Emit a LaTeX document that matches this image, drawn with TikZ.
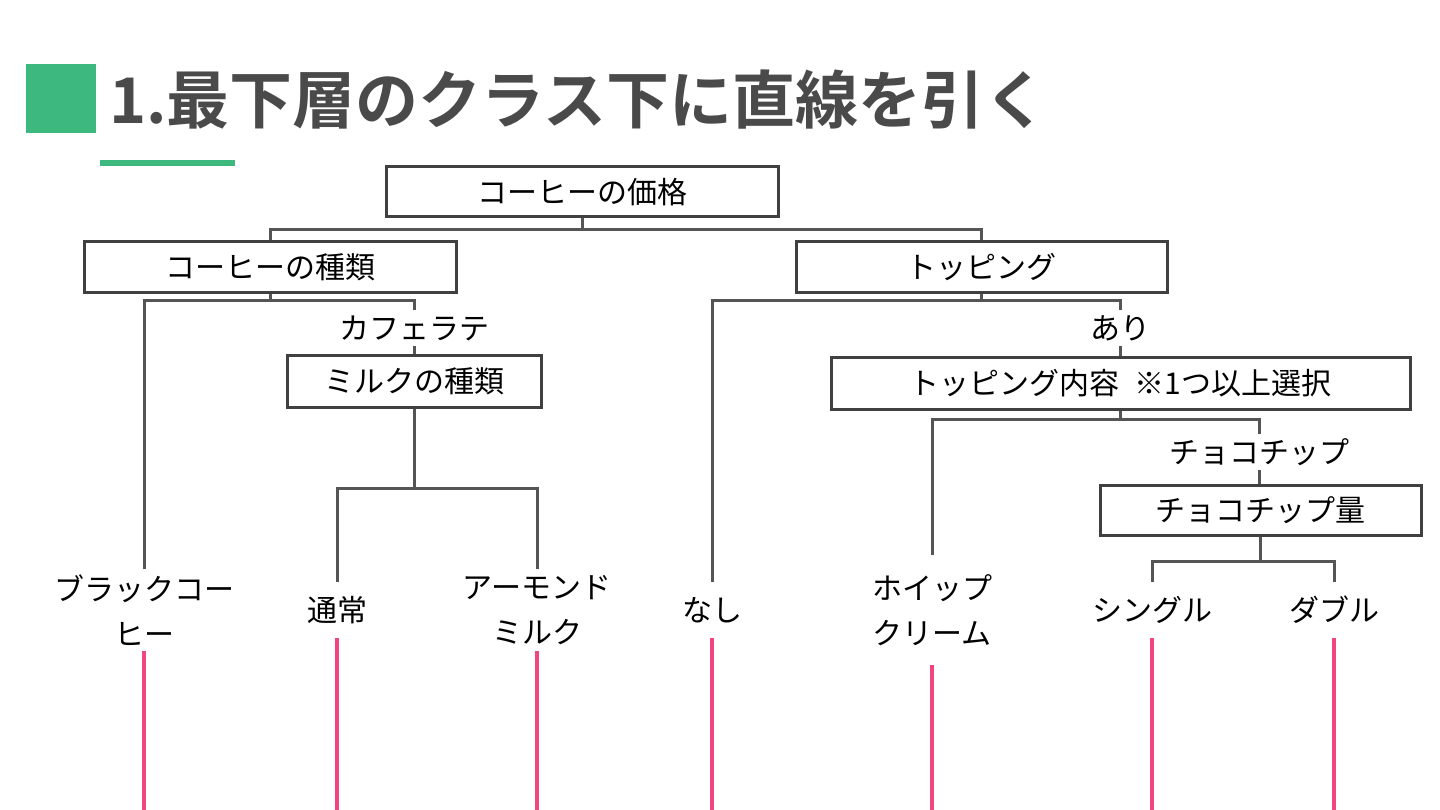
\documentclass[tikz,border=0pt]{standalone}
\usepackage{fontspec}
\newfontfamily\jp{Noto Sans CJK JP}
\newfontfamily\jpbold{Noto Sans CJK JP Bold}
\definecolor{accent}{HTML}{3DB87E}
\definecolor{titlegray}{HTML}{4A4A4A}
\definecolor{linegray}{HTML}{555555}
\definecolor{boxgray}{HTML}{404040}
\definecolor{hotpink}{HTML}{F2447F}
\tikzset{
  box/.style={draw=boxgray, line width=3pt, fill=white, inner sep=0pt, font=\jp\fontsize{30}{30}\selectfont},
  lbl/.style={inner xsep=0pt, inner ysep=3pt, text height=26pt, text depth=4pt, font=\jp\fontsize{30}{30}\selectfont},
  lbltwo/.style={inner xsep=0pt, align=center, font=\jp\fontsize{30}{45}\selectfont},
  conn/.style={draw=linegray, line width=3pt},
  pinkline/.style={draw=hotpink, line width=4pt}
}
\begin{document}
\begin{tikzpicture}[x=1pt,y=-1pt]
\useasboundingbox[fill=white] (0,0) rectangle (1440,810);
% title
\fill[accent] (26,64) rectangle (96,133);
\fill[accent] (100,160) rectangle (235,166);
\node[anchor=west, inner sep=0pt, text=titlegray, font=\jpbold\fontsize{63}{63}\selectfont] (title) at (109,99) {1.最下層のクラス下に直線を引く};
% boxes
\node[box, minimum width=392pt, minimum height=50pt] (root) at (582,192) {コーヒーの価格};
\node[box, minimum width=372pt, minimum height=51pt] (kind) at (270,267.5) {コーヒーの種類};
\node[box, minimum width=371pt, minimum height=51pt] (top) at (981.5,267.5) {トッピング};
\node[box, minimum width=254pt, minimum height=52pt] (milk) at (414,381) {ミルクの種類};
\node[box, minimum width=579pt, minimum height=52pt] (cont) at (1120.5,383) {トッピング内容\hspace{15pt}※1つ以上選択};
\node[box, minimum width=321pt, minimum height=50pt] (choco) at (1260.5,510) {チョコチップ量};
% intermediate labels
\node[lbl, inner ysep=3pt] (latte) at (414,328) {カフェラテ};
\node[lbl, inner ysep=3pt] (ari) at (1120.5,328) {あり};
\node[lbl, inner ysep=3pt] (chip) at (1259,452) {チョコチップ};
% leaf labels
\node[lbltwo, inner ysep=5pt] (black) at (144,610) {ブラックコー\\ヒー};
\node[lbl, inner ysep=13pt] (tsujo) at (337,610) {通常};
\node[lbltwo, inner ysep=6pt] (almond) at (537,610) {アーモンド\\ミルク};
\node[lbl, inner ysep=13pt] (nashi) at (712,610) {なし};
\node[lbltwo, inner ysep=19pt] (whip) at (932,610) {ホイップ\\クリーム};
\node[lbl, inner ysep=13pt] (single) at (1152,610) {シングル};
\node[lbl, inner ysep=13pt] (double) at (1334,610) {ダブル};
% connectors
\draw[conn] (root.south) -- ++(0,11) coordinate (j0);
\draw[conn] (kind.north) |- (j0) -| (top.north);
\draw[conn] (kind.south) -- ++(0,6) coordinate (j1);
\draw[conn] (black.north) |- (j1) -| (latte.north);
\draw[conn] (latte.south) -- (latte.south |- milk.north);
\draw[conn] (milk.south) -- ++(0,80) coordinate (j2);
\draw[conn] (tsujo.north) |- (j2) -| (almond.north);
\draw[conn] (top.south) -- ++(0,6) coordinate (j3);
\draw[conn] (nashi.north) |- (j3) -| (ari.north);
\draw[conn] (ari.south) -- (ari.south |- cont.north);
\draw[conn] (cont.south) -- ++(0,9) coordinate (j4);
\draw[conn] (whip.north) |- (j4) -| (chip.north);
\draw[conn] (chip.south) -- (chip.south |- choco.north);
\draw[conn] (choco.south) -- ++(0,25) coordinate (j5);
\draw[conn] (single.north) |- (j5) -| (double.north);
% red marks
\foreach \n in {black,tsujo,almond,nashi,whip,single,double}{
  \draw[pinkline] (\n.south) -- (\n.south |- 0,810);
}
\end{tikzpicture}
\end{document}
